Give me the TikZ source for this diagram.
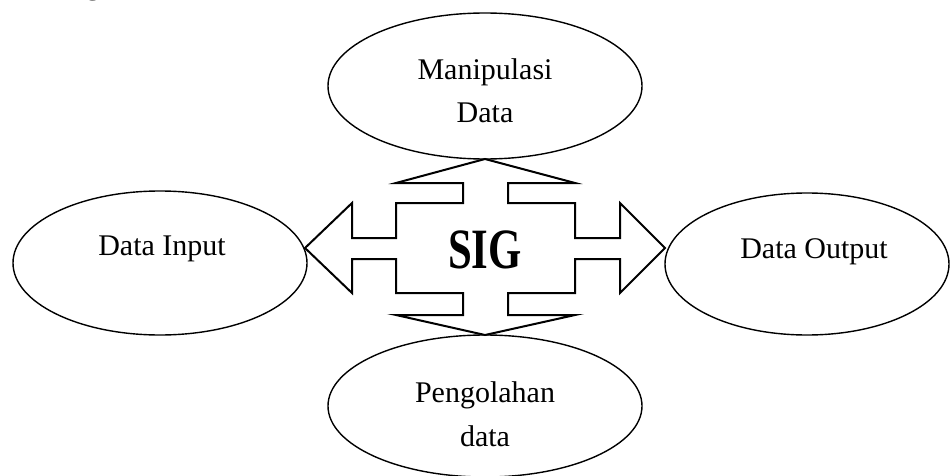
\documentclass[tikz,border=0pt]{standalone}
\usepackage{fontspec}
\usepackage{graphicx}
\setmainfont{Liberation Serif}
\usetikzlibrary{shapes.geometric}
\tikzset{
  oval/.style={draw=black, line width=1.4pt, shape=ellipse, inner sep=0pt},
  lbl/.style={anchor=base, inner sep=0pt, font=\fontsize{30}{43}\selectfont},
  crossline/.style={draw=black, line width=2pt, line join=miter}
}
\begin{document}
\begin{tikzpicture}[x=1pt, y=-1pt]
\useasboundingbox (0,0) rectangle (950,476);
% fragment of text from the line above
\node[lbl] (frag) at (93,-5) {g};
% ellipses
\node[oval, minimum width=314pt, minimum height=146pt] (top) at (485,86) {};
\node[oval, minimum width=314pt, minimum height=142pt] (bot) at (485,406) {};
\node[oval, minimum width=294pt, minimum height=144pt] (left) at (160,263) {};
\node[oval, minimum width=284pt, minimum height=142pt] (right) at (807,264) {};
% labels
\node[lbl] (t1) at (485,80) {Manipulasi};
\node[lbl] (t2) at (485,123) {Data};
\node[lbl] (b1) at (485,402) {Pengolahan};
\node[lbl] (b2) at (485,446) {data};
\node[lbl] (l1) at (162,255) {Data Input};
\node[lbl] (r1) at (814,258) {Data Output};
% cross of arrows
\draw[crossline] (396,183) -- (485,159) -- (575,183) -- (508,183) -- (508,203) -- (575,203)
  -- (575,238) -- (620,238) -- (620,203) -- (665,248) -- (620,293) -- (620,259) -- (575,259)
  -- (575,293) -- (508,293) -- (508,315) -- (575,315) -- (485,335) -- (396,315) -- (463,315)
  -- (463,293) -- (396,293) -- (396,259) -- (352,259) -- (352,293) -- (305,248) -- (352,203)
  -- (352,238) -- (396,238) -- (396,203) -- (463,203) -- (463,183) -- cycle;
\node[anchor=base, inner sep=0pt] (sig) at (485,268) {\scalebox{0.75}[1]{\fontsize{57}{60}\selectfont\bfseries SIG}};
\end{tikzpicture}
\end{document}
